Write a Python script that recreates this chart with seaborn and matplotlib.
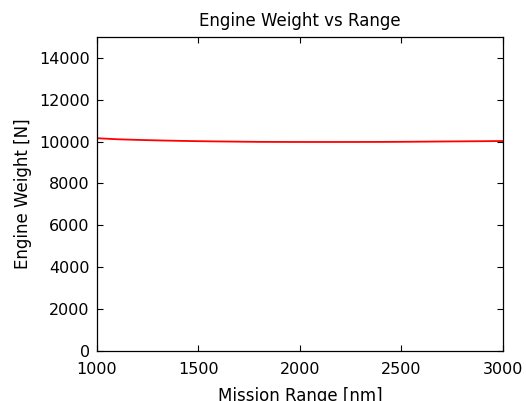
import matplotlib
matplotlib.use("Agg")
import matplotlib.pyplot as plt
import seaborn as sns
import pandas as pd

mission_range = [1000, 1100, 1200, 1300, 1400, 1500, 1600, 1700, 1800, 1900, 2000,
                 2100, 2200, 2300, 2400, 2500, 2600, 2700, 2800, 2900, 3000]
engine_weight = [10160, 10110, 10080, 10055, 10035, 10018, 10005, 9995, 9985, 9982, 9980,
                 9980, 9980, 9981, 9983, 9988, 9995, 10003, 10010, 10017, 10025]

df = pd.DataFrame({"range": mission_range, "weight": engine_weight})

sns.set_style("ticks")
plt.rcParams['font.family'] = ['DejaVu Sans']
plt.rcParams['text.color'] = 'black'
plt.rcParams['axes.labelcolor'] = 'black'
plt.rcParams['xtick.color'] = 'black'
plt.rcParams['ytick.color'] = 'black'
plt.rcParams['axes.edgecolor'] = 'black'
fig = plt.figure(figsize=(5.26, 4.01), dpi=100)
ax = fig.add_axes([0.184, 0.125, 0.772, 0.783])
sns.lineplot(data=df, x="range", y="weight", color="red", linewidth=1.3, ax=ax)
ax.set_xlim(1000, 3000)
ax.set_ylim(0, 15000)
ax.set_xticks([1000, 1500, 2000, 2500, 3000])
ax.set_yticks(range(0, 15000, 2000))
ax.tick_params(direction="in", top=True, right=True, labelsize=11.5, length=4, width=0.8)
ax.tick_params(axis="x", pad=8)
ax.tick_params(axis="y", pad=5)
for s in ax.spines.values():
    s.set_linewidth(0.9)
    s.set_visible(True)
ax.set_xlabel("Mission Range [nm]", fontsize=12, labelpad=7)
ax.set_ylabel("Engine Weight [N]", fontsize=12, labelpad=5)
ax.set_title("Engine Weight vs Range", fontsize=12, pad=8)
fig.savefig("out.png", dpi=100)
